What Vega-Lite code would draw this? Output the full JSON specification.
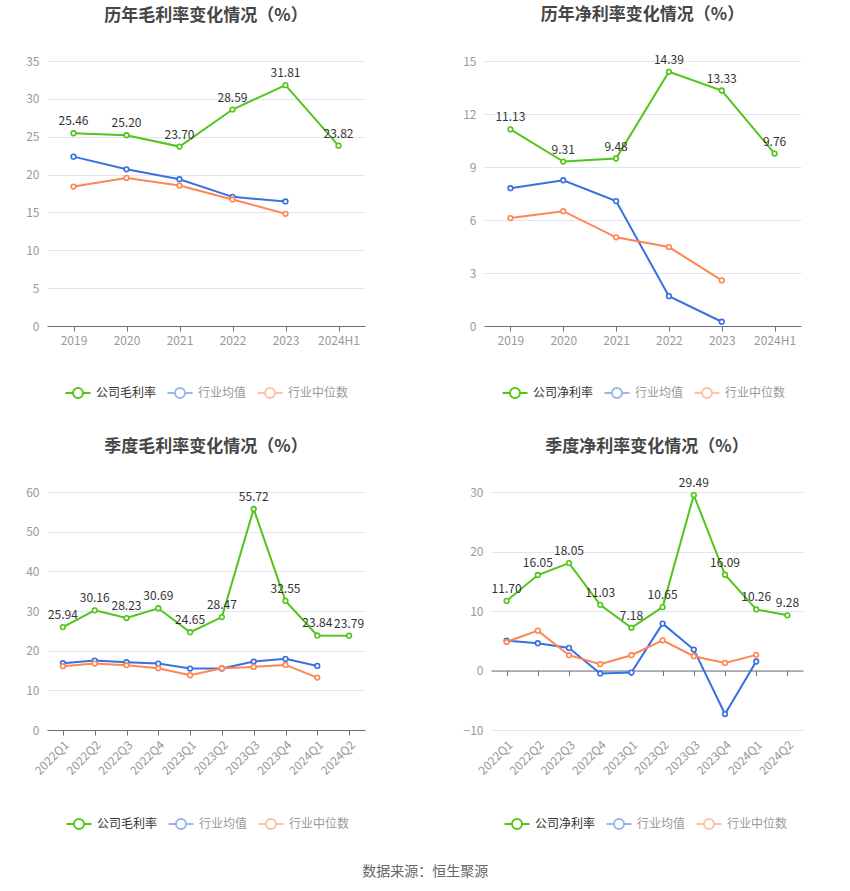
{
  "$schema": "https://vega.github.io/schema/vega-lite/v6.json",
  "padding": {"left": 25, "top": 5, "right": 5, "bottom": 5},
  "background": "white",
  "title": {"text": "数据来源：恒生聚源", "orient": "bottom", "anchor": "middle", "frame": "bounds", "fontSize": 14, "fontWeight": "normal", "color": "#666", "offset": 32, "dx": 11},
  "config": {
    "font": "Noto Sans CJK SC",
    "view": {"stroke": null},
    "title": {"fontSize": 17, "fontWeight": "bold", "color": "#464646", "anchor": "middle", "frame": "group", "offset": 30},
    "axisX": {"title": null, "grid": false, "labelColor": "#999", "labelFontSize": 12, "domainColor": "#6E7079", "tickColor": "#6E7079", "tickSize": 5, "labelPadding": 4, "labelAngle": 0},
    "axisY": {"title": null, "domain": false, "ticks": false, "gridColor": "#E0E6F1", "labelColor": "#999", "labelFontSize": 12, "labelPadding": 8},
    "legend": {
      "orient": "none", "direction": "horizontal", "title": null,
      "symbolType": "M-1.25,0L-0.5,0M0.5,0L1.25,0M0.5,0A0.5,0.5,0,1,1,-0.5,0A0.5,0.5,0,1,1,0.5,0",
      "symbolSize": 400, "symbolStrokeWidth": 2, "symbolFillColor": "white",
      "labelFontSize": 12, "labelOffset": 7, "columnPadding": 6, "labelColor": "#333"
    }
  },
  "datasets": {
    "p1": [
      {"period": "2019", "series": "公司毛利率", "value": 25.46},
      {"period": "2020", "series": "公司毛利率", "value": 25.20},
      {"period": "2021", "series": "公司毛利率", "value": 23.70},
      {"period": "2022", "series": "公司毛利率", "value": 28.59},
      {"period": "2023", "series": "公司毛利率", "value": 31.81},
      {"period": "2024H1", "series": "公司毛利率", "value": 23.82},
      {"period": "2019", "series": "行业均值", "value": 22.37},
      {"period": "2020", "series": "行业均值", "value": 20.70},
      {"period": "2021", "series": "行业均值", "value": 19.39},
      {"period": "2022", "series": "行业均值", "value": 17.06},
      {"period": "2023", "series": "行业均值", "value": 16.45},
      {"period": "2019", "series": "行业中位数", "value": 18.42},
      {"period": "2020", "series": "行业中位数", "value": 19.56},
      {"period": "2021", "series": "行业中位数", "value": 18.55},
      {"period": "2022", "series": "行业中位数", "value": 16.71},
      {"period": "2023", "series": "行业中位数", "value": 14.82}
    ],
    "p2": [
      {"period": "2019", "series": "公司净利率", "value": 11.13},
      {"period": "2020", "series": "公司净利率", "value": 9.31},
      {"period": "2021", "series": "公司净利率", "value": 9.48},
      {"period": "2022", "series": "公司净利率", "value": 14.39},
      {"period": "2023", "series": "公司净利率", "value": 13.33},
      {"period": "2024H1", "series": "公司净利率", "value": 9.76},
      {"period": "2019", "series": "行业均值", "value": 7.80},
      {"period": "2020", "series": "行业均值", "value": 8.25},
      {"period": "2021", "series": "行业均值", "value": 7.07},
      {"period": "2022", "series": "行业均值", "value": 1.69},
      {"period": "2023", "series": "行业均值", "value": 0.24},
      {"period": "2019", "series": "行业中位数", "value": 6.11},
      {"period": "2020", "series": "行业中位数", "value": 6.50},
      {"period": "2021", "series": "行业中位数", "value": 5.02},
      {"period": "2022", "series": "行业中位数", "value": 4.47},
      {"period": "2023", "series": "行业中位数", "value": 2.58}
    ],
    "p3": [
      {"period": "2022Q1", "series": "公司毛利率", "value": 25.94},
      {"period": "2022Q2", "series": "公司毛利率", "value": 30.16},
      {"period": "2022Q3", "series": "公司毛利率", "value": 28.23},
      {"period": "2022Q4", "series": "公司毛利率", "value": 30.69},
      {"period": "2023Q1", "series": "公司毛利率", "value": 24.65},
      {"period": "2023Q2", "series": "公司毛利率", "value": 28.47},
      {"period": "2023Q3", "series": "公司毛利率", "value": 55.72},
      {"period": "2023Q4", "series": "公司毛利率", "value": 32.55},
      {"period": "2024Q1", "series": "公司毛利率", "value": 23.84},
      {"period": "2024Q2", "series": "公司毛利率", "value": 23.79},
      {"period": "2022Q1", "series": "行业均值", "value": 16.83},
      {"period": "2022Q2", "series": "行业均值", "value": 17.50},
      {"period": "2022Q3", "series": "行业均值", "value": 17.08},
      {"period": "2022Q4", "series": "行业均值", "value": 16.75},
      {"period": "2023Q1", "series": "行业均值", "value": 15.49},
      {"period": "2023Q2", "series": "行业均值", "value": 15.49},
      {"period": "2023Q3", "series": "行业均值", "value": 17.25},
      {"period": "2023Q4", "series": "行业均值", "value": 17.93},
      {"period": "2024Q1", "series": "行业均值", "value": 16.16},
      {"period": "2022Q1", "series": "行业中位数", "value": 16.08},
      {"period": "2022Q2", "series": "行业中位数", "value": 16.75},
      {"period": "2022Q3", "series": "行业中位数", "value": 16.33},
      {"period": "2022Q4", "series": "行业中位数", "value": 15.57},
      {"period": "2023Q1", "series": "行业中位数", "value": 13.80},
      {"period": "2023Q2", "series": "行业中位数", "value": 15.57},
      {"period": "2023Q3", "series": "行业中位数", "value": 15.91},
      {"period": "2023Q4", "series": "行业中位数", "value": 16.41},
      {"period": "2024Q1", "series": "行业中位数", "value": 13.21}
    ],
    "p4": [
      {"period": "2022Q1", "series": "公司净利率", "value": 11.70},
      {"period": "2022Q2", "series": "公司净利率", "value": 16.05},
      {"period": "2022Q3", "series": "公司净利率", "value": 18.05},
      {"period": "2022Q4", "series": "公司净利率", "value": 11.03},
      {"period": "2023Q1", "series": "公司净利率", "value": 7.18},
      {"period": "2023Q2", "series": "公司净利率", "value": 10.65},
      {"period": "2023Q3", "series": "公司净利率", "value": 29.49},
      {"period": "2023Q4", "series": "公司净利率", "value": 16.09},
      {"period": "2024Q1", "series": "公司净利率", "value": 10.26},
      {"period": "2024Q2", "series": "公司净利率", "value": 9.28},
      {"period": "2022Q1", "series": "行业均值", "value": 5.03},
      {"period": "2022Q2", "series": "行业均值", "value": 4.58},
      {"period": "2022Q3", "series": "行业均值", "value": 3.80},
      {"period": "2022Q4", "series": "行业均值", "value": -0.50},
      {"period": "2023Q1", "series": "行业均值", "value": -0.34},
      {"period": "2023Q2", "series": "行业均值", "value": 7.88},
      {"period": "2023Q3", "series": "行业均值", "value": 3.52},
      {"period": "2023Q4", "series": "行业均值", "value": -7.32},
      {"period": "2024Q1", "series": "行业均值", "value": 1.51},
      {"period": "2022Q1", "series": "行业中位数", "value": 4.80},
      {"period": "2022Q2", "series": "行业中位数", "value": 6.70},
      {"period": "2022Q3", "series": "行业中位数", "value": 2.57},
      {"period": "2022Q4", "series": "行业中位数", "value": 1.06},
      {"period": "2023Q1", "series": "行业中位数", "value": 2.57},
      {"period": "2023Q2", "series": "行业中位数", "value": 5.08},
      {"period": "2023Q3", "series": "行业中位数", "value": 2.40},
      {"period": "2023Q4", "series": "行业中位数", "value": 1.28},
      {"period": "2024Q1", "series": "行业中位数", "value": 2.63}
    ]
  },
  "spacing": 36,
  "vconcat": [
    {
      "spacing": 97,
      "resolve": {"scale": {"color": "independent", "x": "independent", "y": "independent"}},
      "hconcat": [
        {
          "title": {"text": "历年毛利率变化情况（%）", "offset": 30},
          "width": 318, "height": 265,
          "data": {"name": "p1"},
          "encoding": {
            "x": {"field": "period", "type": "ordinal", "sort": null, "scale": {"type": "point", "padding": 0.5}},
            "y": {"field": "value", "type": "quantitative", "scale": {"domain": [0, 35], "nice": false}, "axis": {"values": [0, 5, 10, 15, 20, 25, 30, 35]}}
          },
          "layer": [
            {
              "mark": {"type": "line", "strokeWidth": 2, "point": {"filled": false, "fill": "white", "size": 22, "strokeWidth": 1.6}},
              "encoding": {
                "color": {"field": "series", "type": "nominal", "scale": {"domain": ["公司毛利率", "行业均值", "行业中位数"], "range": ["#52c41a", "#3a6fe0", "#ff8552"]},
                  "legend": {"legendX": 20, "legendY": 321,
                    "encode": {"symbols": {"update": {"opacity": {"signal": "datum.value === '公司毛利率' ? 1 : 0.5"}}}, "labels": {"update": {"fill": {"signal": "datum.value === '公司毛利率' ? '#333' : '#999'"}}}}}}
              }
            },
            {
              "transform": [{"filter": "datum.series === '公司毛利率'"}],
              "mark": {"type": "text", "baseline": "bottom", "dy": -5, "fontSize": 12, "color": "#333"},
              "encoding": {"text": {"field": "value", "type": "quantitative", "format": ".2f"}}
            }
          ]
        },
        {
          "title": {"text": "历年净利率变化情况（%）", "offset": 30},
          "width": 317, "height": 265,
          "data": {"name": "p2"},
          "encoding": {
            "x": {"field": "period", "type": "ordinal", "sort": null, "scale": {"type": "point", "padding": 0.5}},
            "y": {"field": "value", "type": "quantitative", "scale": {"domain": [0, 15], "nice": false}, "axis": {"values": [0, 3, 6, 9, 12, 15]}}
          },
          "layer": [
            {
              "mark": {"type": "line", "strokeWidth": 2, "point": {"filled": false, "fill": "white", "size": 22, "strokeWidth": 1.6}},
              "encoding": {
                "color": {"field": "series", "type": "nominal", "scale": {"domain": ["公司净利率", "行业均值", "行业中位数"], "range": ["#52c41a", "#3a6fe0", "#ff8552"]},
                  "legend": {"legendX": 20, "legendY": 321,
                    "encode": {"symbols": {"update": {"opacity": {"signal": "datum.value === '公司净利率' ? 1 : 0.5"}}}, "labels": {"update": {"fill": {"signal": "datum.value === '公司净利率' ? '#333' : '#999'"}}}}}}
              }
            },
            {
              "transform": [{"filter": "datum.series === '公司净利率'"}],
              "mark": {"type": "text", "baseline": "bottom", "dy": -5, "fontSize": 12, "color": "#333"},
              "encoding": {"text": {"field": "value", "type": "quantitative", "format": ".2f"}}
            }
          ]
        }
      ]
    },
    {
      "spacing": 98,
      "resolve": {"scale": {"color": "independent", "x": "independent", "y": "independent"}},
      "hconcat": [
        {
          "title": {"text": "季度毛利率变化情况（%）", "offset": 30},
          "width": 318, "height": 238,
          "data": {"name": "p3"},
          "encoding": {
            "x": {"field": "period", "type": "ordinal", "sort": null, "scale": {"type": "point", "padding": 0.5}, "axis": {"labelAngle": -45}},
            "y": {"field": "value", "type": "quantitative", "scale": {"domain": [0, 60], "nice": false}, "axis": {"values": [0, 10, 20, 30, 40, 50, 60]}}
          },
          "layer": [
            {
              "mark": {"type": "line", "strokeWidth": 2, "point": {"filled": false, "fill": "white", "size": 22, "strokeWidth": 1.6}},
              "encoding": {
                "color": {"field": "series", "type": "nominal", "scale": {"domain": ["公司毛利率", "行业均值", "行业中位数"], "range": ["#52c41a", "#3a6fe0", "#ff8552"]},
                  "legend": {"legendX": 21, "legendY": 321,
                    "encode": {"symbols": {"update": {"opacity": {"signal": "datum.value === '公司毛利率' ? 1 : 0.5"}}}, "labels": {"update": {"fill": {"signal": "datum.value === '公司毛利率' ? '#333' : '#999'"}}}}}}
              }
            },
            {
              "transform": [{"filter": "datum.series === '公司毛利率'"}],
              "mark": {"type": "text", "baseline": "bottom", "dy": -5, "fontSize": 12, "color": "#333"},
              "encoding": {"text": {"field": "value", "type": "quantitative", "format": ".2f"}}
            }
          ]
        },
        {
          "title": {"text": "季度净利率变化情况（%）", "offset": 21},
          "width": 312, "height": 238,
          "data": {"name": "p4"},
          "resolve": {"axis": {"x": "independent"}},
          "encoding": {
            "y": {"field": "value", "type": "quantitative", "scale": {"domain": [-10, 30], "nice": false}, "axis": {"values": [-10, 0, 10, 20, 30]}}
          },
          "layer": [
            {
              "mark": {"type": "line", "strokeWidth": 2, "point": {"filled": false, "fill": "white", "size": 22, "strokeWidth": 1.6}},
              "encoding": {
                "x": {"field": "period", "type": "ordinal", "sort": null, "scale": {"type": "point", "padding": 0.5}, "axis": {"orient": "bottom", "labels": false, "offset": -59.5}},
                "color": {"field": "series", "type": "nominal", "scale": {"domain": ["公司净利率", "行业均值", "行业中位数"], "range": ["#52c41a", "#3a6fe0", "#ff8552"]},
                  "legend": {"legendX": 15, "legendY": 321,
                    "encode": {"symbols": {"update": {"opacity": {"signal": "datum.value === '公司净利率' ? 1 : 0.5"}}}, "labels": {"update": {"fill": {"signal": "datum.value === '公司净利率' ? '#333' : '#999'"}}}}}}
              }
            },
            {
              "transform": [{"filter": "datum.series === '公司净利率'"}],
              "mark": {"type": "text", "baseline": "bottom", "dy": -5, "fontSize": 12, "color": "#333"},
              "encoding": {
                "x": {"field": "period", "type": "ordinal", "sort": null, "axis": {"orient": "bottom", "labelAngle": -45, "domain": false, "ticks": false, "labelPadding": 9}},
                "text": {"field": "value", "type": "quantitative", "format": ".2f"}
              }
            }
          ]
        }
      ]
    }
  ]
}
